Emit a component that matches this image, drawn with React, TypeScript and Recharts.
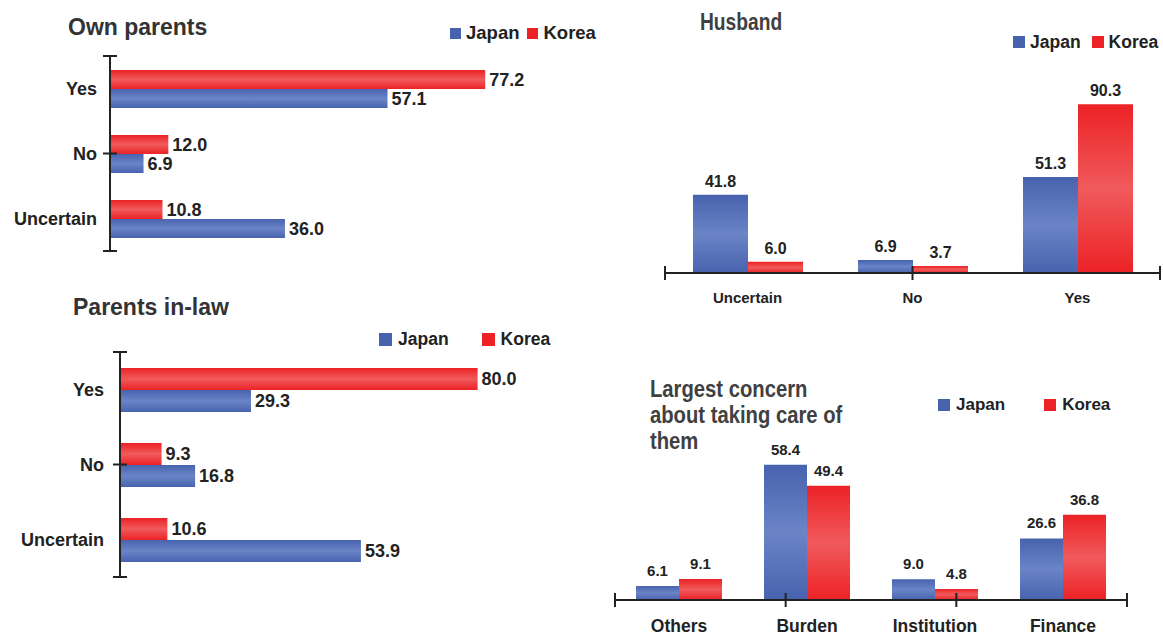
import { BarChart, Bar, XAxis, YAxis, LabelList } from 'recharts';

const INK = '#222';
const BLUE_DARK = '#4863ae';
const BLUE_LIGHT = '#6a84c6';
const RED_DARK = '#ec2226';
const RED_LIGHT = '#f05a5c';
const FONT = "'Liberation Sans', Arial, sans-serif";

const answers = ['Yes', 'No', 'Uncertain'];
const ownJapan = [57.1, 6.9, 36.0];
const ownKorea = [77.2, 12.0, 10.8];
const inlawJapan = [29.3, 16.8, 53.9];
const inlawKorea = [80.0, 9.3, 10.6];

const husbandCats = ['Uncertain', 'No', 'Yes'];
const husbandJapan = [41.8, 6.9, 51.3];
const husbandKorea = [6.0, 3.7, 90.3];

const concernCats = ['Others', 'Burden', 'Institution', 'Finance'];
const concernJapan = [6.1, 58.4, 9.0, 26.6];
const concernKorea = [9.1, 49.4, 4.8, 36.8];

const seriesNames = ['Japan', 'Korea'];
const concernTitle = ['Largest concern', 'about taking care of', 'them'];

const fmt = (v: any) => Number(v).toFixed(1);

const build = (cats: string[], japan: number[], korea: number[]) =>
  cats.map((name, i) => ({ name, japan: japan[i], korea: korea[i] }));

const bounds = (cats: string[]) => cats.map((_, i) => i).concat(cats.length);

// tick marks that cross the axis line at category boundaries
const crossY = (p: any) => (
  <line x1={p.x - 7} x2={p.x + 7} y1={p.y} y2={p.y} stroke={INK} strokeWidth={2} />
);
const crossX = (p: any) => (
  <line x1={p.x} x2={p.x} y1={p.y - 7} y2={p.y + 7} stroke={INK} strokeWidth={2} />
);

function Gradients({ id }: { id: string }) {
  return (
    <defs>
      <linearGradient id={`${id}b`} x1="0" y1="0" x2="0" y2="1">
        <stop offset="0%" stopColor={BLUE_DARK} />
        <stop offset="50%" stopColor={BLUE_LIGHT} />
        <stop offset="100%" stopColor={BLUE_DARK} />
      </linearGradient>
      <linearGradient id={`${id}r`} x1="0" y1="0" x2="0" y2="1">
        <stop offset="0%" stopColor={RED_DARK} />
        <stop offset="50%" stopColor={RED_LIGHT} />
        <stop offset="100%" stopColor={RED_DARK} />
      </linearGradient>
    </defs>
  );
}

function LegendRow({ x, cy, box, fs, gap, itemGap }: { x: number; cy: number; box: number; fs: number; gap: number; itemGap: number }) {
  const colors = [BLUE_DARK, RED_DARK];
  return (
    <div style={{ position: 'absolute', left: x, top: cy - 12, height: 24, display: 'flex', alignItems: 'center', fontFamily: FONT, fontWeight: 700, fontSize: fs, color: INK }}>
      {seriesNames.map((n, i) => (
        <div key={n} style={{ display: 'flex', alignItems: 'center', marginLeft: i ? itemGap : 0 }}>
          <div style={{ width: box, height: box, background: colors[i], marginRight: gap }} />
          <span>{n}</span>
        </div>
      ))}
    </div>
  );
}

function Title({ x, y, fs, text, squeeze = 1, color = '#333' }: any) {
  return (
    <div style={{ position: 'absolute', left: x, top: y, fontFamily: FONT, fontWeight: 700, fontSize: fs, lineHeight: 1, color, whiteSpace: 'pre', transform: `scaleX(${squeeze})`, transformOrigin: 'left top' }}>
      {text}
    </div>
  );
}

function HPanel({ id, left, top, width, height, margin, axisW, barSize, data, tickFs, labelFs, tickGap }: any) {
  return (
    <div style={{ position: 'absolute', left, top }}>
      <BarChart layout="vertical" width={width} height={height} data={data} margin={margin} barGap={0} barSize={barSize}>
        <Gradients id={id} />
        <XAxis type="number" domain={[0, 100]} hide />
        <YAxis yAxisId="cat" type="category" dataKey="name" width={axisW - 1} tickSize={0} tickMargin={tickGap - 1}
          interval={0} tickLine={false} axisLine={false}
          tick={{ fill: INK, fontSize: tickFs, fontWeight: 700, fontFamily: FONT }} />
        <YAxis yAxisId="a" type="number" domain={[0, answers.length]} ticks={bounds(answers)} width={1}
          tickSize={0} tickMargin={0} interval={0} tickLine={false}
          axisLine={{ stroke: INK, strokeWidth: 2 }} tick={crossY} />
        <Bar yAxisId="cat" dataKey="korea" fill={`url(#${id}r)`} isAnimationActive={false}>
          <LabelList dataKey="korea" position="right" offset={4} formatter={fmt}
            fill={INK} fontSize={labelFs} fontWeight={700} fontFamily={FONT} />
        </Bar>
        <Bar yAxisId="cat" dataKey="japan" fill={`url(#${id}b)`} isAnimationActive={false}>
          <LabelList dataKey="japan" position="right" offset={4} formatter={fmt}
            fill={INK} fontSize={labelFs} fontWeight={700} fontFamily={FONT} />
        </Bar>
      </BarChart>
    </div>
  );
}

function VPanel({ id, left, top, width, height, margin, axisH, barSize, data, cats, yMax, tickFs, labelFs, tickGap, labelOffset }: any) {
  return (
    <div style={{ position: 'absolute', left, top }}>
      <BarChart width={width} height={height} data={data} margin={margin} barGap={0} barSize={barSize}>
        <Gradients id={id} />
        <XAxis xAxisId="cat" dataKey="name" height={axisH - 1} tickSize={0} tickMargin={tickGap - 1} interval={0}
          tickLine={false} axisLine={false}
          tick={{ fill: INK, fontSize: tickFs, fontWeight: 700, fontFamily: FONT }} />
        <XAxis xAxisId="a" type="number" domain={[0, cats.length]} ticks={bounds(cats)} height={1}
          tickSize={0} tickMargin={0} interval={0} tickLine={false}
          axisLine={{ stroke: INK, strokeWidth: 2 }} tick={crossX} />
        <YAxis domain={[0, yMax]} hide />
        <Bar xAxisId="cat" dataKey="japan" fill={`url(#${id}b)`} isAnimationActive={false}>
          <LabelList dataKey="japan" position="top" offset={labelOffset} formatter={fmt}
            fill={INK} fontSize={labelFs} fontWeight={700} fontFamily={FONT} />
        </Bar>
        <Bar xAxisId="cat" dataKey="korea" fill={`url(#${id}r)`} isAnimationActive={false}>
          <LabelList dataKey="korea" position="top" offset={labelOffset} formatter={fmt}
            fill={INK} fontSize={labelFs} fontWeight={700} fontFamily={FONT} />
        </Bar>
      </BarChart>
    </div>
  );
}

export default function App() {
  return (
    <div style={{ position: 'absolute', left: 0, top: 0, width: 1163, height: 635, background: '#fff', overflow: 'hidden' }}>
      <Title x={68} y={16} fs={23} text="Own parents" />
      <LegendRow x={450} cy={33} box={11} fs={18.5} gap={5} itemGap={8} />
      <HPanel id="own" left={0} top={0} width={620} height={270}
        margin={{ top: 56, right: 24, bottom: 19, left: 0 }} axisW={110} barSize={19}
        data={build(answers, ownJapan, ownKorea)} tickFs={18} labelFs={18} tickGap={13} />

      <Title x={73} y={296} fs={23} text="Parents in-law" />
      <LegendRow x={379} cy={339} box={13} fs={17.5} gap={6} itemGap={33} />
      <HPanel id="inlaw" left={0} top={290} width={620} height={310}
        margin={{ top: 62, right: 53, bottom: 23, left: 0 }} axisW={120} barSize={22}
        data={build(answers, inlawJapan, inlawKorea)} tickFs={18} labelFs={18} tickGap={16} />

      <Title x={700} y={10} fs={24} squeeze={0.8} text="Husband" color="#404040" />
      <LegendRow x={1013} cy={42} box={12} fs={17.5} gap={5} itemGap={11} />
      <VPanel id="hus" left={620} top={0} width={543} height={320}
        margin={{ top: 86, right: 3, bottom: 0, left: 45 }} axisH={47} barSize={55}
        data={build(husbandCats, husbandJapan, husbandKorea)} cats={husbandCats} yMax={100}
        tickFs={15} labelFs={16} tickGap={19} labelOffset={8} />

      {concernTitle.map((t, i) => (
        <Title key={t} x={650} y={378 + i * 26} fs={23} squeeze={0.88} text={t} color="#404040" />
      ))}
      <LegendRow x={938} cy={405} box={12} fs={17} gap={6} itemGap={39} />
      <VPanel id="con" left={600} top={360} width={563} height={275}
        margin={{ top: 78, right: 36, bottom: 0, left: 15 }} axisH={35} barSize={43}
        data={build(concernCats, concernJapan, concernKorea)} cats={concernCats} yMax={70}
        tickFs={17.5} labelFs={15} tickGap={20} labelOffset={10} />
    </div>
  );
}
